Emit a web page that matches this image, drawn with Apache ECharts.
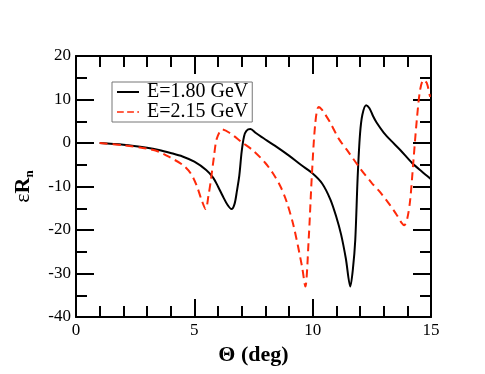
<!DOCTYPE html>
<html>
<head>
<meta charset="utf-8">
<script src="https://cdn.jsdelivr.net/npm/echarts@6/dist/echarts.min.js"></script>
<style>
html, body { margin: 0; padding: 0; background: #fff; }
#chart { width: 485px; height: 374px; }
</style>
</head>
<body>
<div id="chart"></div>
<script>
// E = 1.80 GeV
let thetaA = [1, 2, 3, 3.5, 4, 4.5, 5, 5.5, 5.8, 6.0, 6.2, 6.4, 6.57, 6.7, 6.8, 6.9, 7.0, 7.1, 7.2, 7.37, 7.6, 8.0, 8.4, 9.0, 9.5, 10.0, 10.4, 10.75, 11.0, 11.2, 11.4, 11.59, 11.7, 11.8, 11.9, 12.0, 12.1, 12.26, 12.4, 12.55, 12.7, 13.0, 13.3, 13.7, 14.2, 14.6, 15.0];
let epsA = [0, -0.4, -1.1, -1.6, -2.3, -3.1, -4.3, -6.2, -8.0, -10.0, -12.2, -14.2, -15.2, -14.0, -11.0, -7.5, -2.0, 1.5, 2.8, 3.2, 2.3, 0.8, -0.6, -2.9, -5.0, -7.0, -9.3, -13.0, -17.0, -21.0, -26.5, -33.0, -29.0, -22.3, -8.0, 2.0, 6.5, 8.7, 8.0, 6.2, 4.7, 2.4, 0.6, -1.6, -4.6, -6.5, -8.3];
// E = 2.15 GeV
let thetaB = [1, 2, 3, 3.5, 4, 4.5, 4.85, 5.1, 5.3, 5.48, 5.6, 5.7, 5.83, 5.95, 6.18, 6.5, 7.0, 7.5, 8.0, 8.3, 8.64, 8.9, 9.2, 9.55, 9.69, 9.83, 9.97, 10.11, 10.25, 10.4, 10.75, 11.1, 11.5, 12.0, 12.5, 12.85, 13.27, 13.56, 13.75, 13.87, 14.0, 14.12, 14.26, 14.4, 14.54, 14.68, 14.82, 14.96];
let epsB = [0, -0.5, -1.3, -2.0, -3.4, -5.0, -7.0, -9.8, -13.0, -15.2, -12.0, -8.5, -3.1, 1.0, 3.1, 2.3, 0.2, -1.8, -4.6, -6.8, -10.0, -13.5, -19.2, -28.4, -33.0, -22.3, -7.0, 4.5, 8.3, 7.6, 4.6, 1.0, -2.0, -5.8, -9.2, -11.3, -14.3, -16.6, -18.3, -18.9, -17.3, -13.1, -3.9, 5.3, 12.2, 14.5, 13.8, 10.6];
let names = ['E=1.80 GeV', 'E=2.15 GeV'];

function pairs(xs, ys) {
    let out = [];
    for (let i = 0; i < xs.length; i++) out.push([xs[i], ys[i]]);
    return out;
}

let serif = 'Liberation Serif';
let tickStyle = { color: '#000', width: 2 };
let axisLine = { onZero: false, lineStyle: { color: '#000', width: 2 } };

let option = {
    animation: false,
    textStyle: { fontFamily: serif },
    grid: { left: 76, top: 56, width: 355, height: 261 },
    legend: {
        orient: 'vertical',
        left: 112, top: 82,
        padding: [0, 4, 0, 5],
        itemGap: 0,
        itemWidth: 22, itemHeight: 2,
        borderColor: '#777', borderWidth: 1,
        itemStyle: { borderWidth: 0 },
        textStyle: { fontFamily: serif, fontSize: 20, color: '#000', lineHeight: 19, padding: [0, 0, 0, 3] },
        data: [
            { name: names[0], icon: 'rect' },
            { name: names[1], icon: 'path://M0,0h8v2h-8z M12,0h8v2h-8z M24,0h2v2h-2z' }
        ]
    },
    xAxis: [{
        type: 'value', min: 0, max: 15, interval: 5,
        name: 'Θ (deg)', nameLocation: 'middle', nameGap: 22,
        nameTextStyle: { fontFamily: serif, fontSize: 22, fontWeight: 'bold', color: '#000' },
        axisLine: axisLine,
        axisTick: { inside: true, length: 18, lineStyle: tickStyle },
        minorTick: { show: true, splitNumber: 5, length: 11, lineStyle: tickStyle },
        axisLabel: { fontFamily: serif, fontSize: 17, color: '#000', margin: 5 },
        splitLine: { show: false }
    }, {
        type: 'value', min: 0, max: 15, interval: 5, position: 'top',
        axisLine: axisLine,
        axisTick: { inside: true, length: 18, lineStyle: tickStyle },
        minorTick: { show: true, splitNumber: 5, length: 11, lineStyle: tickStyle },
        axisLabel: { show: false },
        splitLine: { show: false }
    }],
    yAxis: [{
        type: 'value', min: -40, max: 20, interval: 10,
        name: '{e|ε}{r|R}{s|n}', nameLocation: 'middle', nameGap: 40, nameRotate: 90,
        nameTextStyle: {
            color: '#000',
            rich: {
                e: { fontFamily: serif, fontSize: 22, color: '#000' },
                r: { fontFamily: serif, fontSize: 22, fontWeight: 'bold', color: '#000' },
                s: { fontFamily: serif, fontSize: 13, fontWeight: 'bold', color: '#000', padding: [12, 0, 0, 0] }
            }
        },
        axisLine: axisLine,
        axisTick: { inside: true, length: 18, lineStyle: tickStyle },
        minorTick: { show: true, splitNumber: 2, length: 11, lineStyle: tickStyle },
        axisLabel: { fontFamily: serif, fontSize: 17, color: '#000', margin: 5 },
        splitLine: { show: false }
    }, {
        type: 'value', min: -40, max: 20, interval: 10, position: 'right',
        axisLine: axisLine,
        axisTick: { inside: true, length: 18, lineStyle: tickStyle },
        minorTick: { show: true, splitNumber: 2, length: 11, lineStyle: tickStyle },
        axisLabel: { show: false },
        splitLine: { show: false }
    }],
    series: [{
        name: names[0],
        type: 'line',
        data: pairs(thetaA, epsA),
        showSymbol: false,
        smooth: 0.3,
        lineStyle: { color: '#000', width: 2 },
        itemStyle: { color: '#000' }
    }, {
        name: names[1],
        type: 'line',
        data: pairs(thetaB, epsB),
        showSymbol: false,
        smooth: 0.3,
        lineStyle: { color: '#ff2a0a', width: 2, type: [8, 5] },
        itemStyle: { color: '#ff2a0a' }
    }]
};

let chart = echarts.init(document.getElementById('chart'));
chart.setOption(option);
</script>
</body>
</html>
